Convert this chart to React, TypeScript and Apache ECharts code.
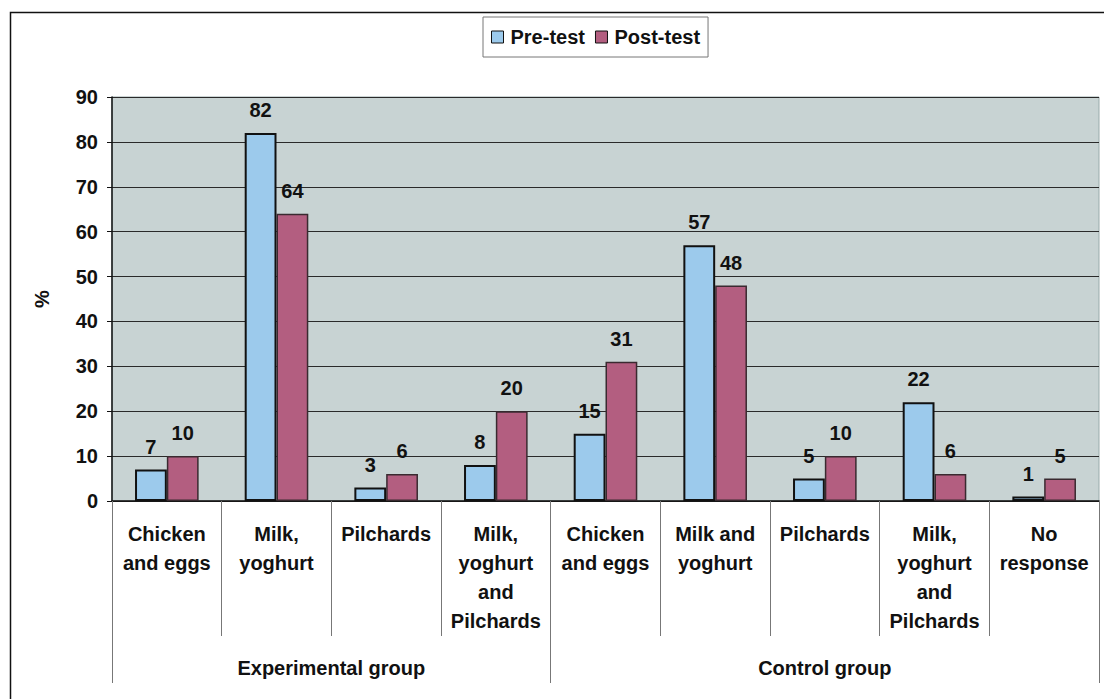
import React, { useEffect, useRef } from "react";
import * as echarts from "echarts";

const categories = [
  "Chicken\nand eggs",
  "Milk,\nyoghurt",
  "Pilchards",
  "Milk,\nyoghurt\nand\nPilchards",
  "Chicken\nand eggs",
  "Milk and\nyoghurt",
  "Pilchards",
  "Milk,\nyoghurt\nand\nPilchards",
  "No\nresponse",
];
const preTest = [7, 82, 3, 8, 15, 57, 5, 22, 1];
const postTest = [10, 64, 6, 20, 31, 48, 10, 6, 5];
const groupNames = ["Experimental group", "Control group"];
const groupSizes = [4, 5];
const seriesNames = ["Pre-test", "Post-test"];
const yTicks = { min: 0, max: 90, interval: 10 };

const FONT = "'Liberation Sans', Arial, sans-serif";

export default function App() {
  const ref = useRef<HTMLDivElement>(null);
  useEffect(() => {
    if (!ref.current) return;
    const chart = echarts.init(ref.current, null, { renderer: "svg" });

    // group boundaries and centres (in category units)
    const bounds: number[] = [0];
    groupSizes.forEach((s) => bounds.push(bounds[bounds.length - 1] + s));
    const centres = groupSizes.map((s, i) => bounds[i] + s / 2);
    const total = bounds[bounds.length - 1];

    const labelStyle = {
      show: true,
      position: "top" as const,
      distance: 13,
      color: "#111",
      fontFamily: FONT,
      fontSize: 20,
      fontWeight: "bold" as const,
    };

    chart.setOption({
      animation: false,
      backgroundColor: "#ffffff",
      textStyle: { fontFamily: FONT },
      graphic: [
        {
          type: "rect",
          shape: { x: 10.5, y: 12.5, width: 1200, height: 800 },
          style: { fill: "none", stroke: "#111", lineWidth: 1.5 },
          silent: true,
          z: -10,
        },
      ],
      legend: {
        left: 483,
        top: 17,
        data: seriesNames,
        itemWidth: 12,
        itemHeight: 12,
        itemGap: 10,
        padding: [10, 8, 10, 8],
        borderColor: "#777",
        borderWidth: 1,
        backgroundColor: "#fff",
        icon: "rect",
        textStyle: {
          fontFamily: FONT,
          fontSize: 20,
          fontWeight: "bold",
          color: "#111",
          padding: [0, 0, 0, 2],
        },
        itemStyle: { borderColor: "#111", borderWidth: 1 },
      },
      grid: {
        left: 112,
        right: 5,
        top: 97,
        bottom: 198,
        show: true,
        backgroundColor: "#c8d3d3",
        borderColor: "#9aa",
        borderWidth: 1,
      },
      xAxis: [
        {
          type: "category",
          data: categories,
          position: "bottom",
          axisLine: { show: true, lineStyle: { color: "#111", width: 1.5 } },
          axisTick: {
            show: true,
            interval: 0,
            alignWithLabel: false,
            length: 135,
            lineStyle: { color: "#777", width: 1 },
          },
          axisLabel: {
            interval: 0,
            margin: 18,
            color: "#111",
            fontFamily: FONT,
            fontSize: 20,
            fontWeight: "bold",
            lineHeight: 29,
            align: "center",
          },
          splitLine: { show: false },
        },
        {
          type: "value",
          position: "bottom",
          min: 0,
          max: total,
          axisLine: { show: false },
          splitLine: { show: false },
          axisTick: {
            show: true,
            customValues: bounds,
            length: 182,
            lineStyle: { color: "#777", width: 1 },
          },
          axisLabel: {
            customValues: centres,
            margin: 155,
            color: "#111",
            fontFamily: FONT,
            fontSize: 20,
            fontWeight: "bold",
            lineHeight: 24,
            formatter: (v: number) => {
              const i = centres.findIndex((c) => Math.abs(c - v) < 1e-6);
              return i >= 0 ? groupNames[i] : "";
            },
          },
        },
      ],
      yAxis: {
        type: "value",
        min: yTicks.min,
        max: yTicks.max,
        interval: yTicks.interval,
        name: "%",
        nameLocation: "middle",
        nameGap: 60,
        nameRotate: 90,
        nameTextStyle: {
          fontFamily: FONT,
          fontSize: 20,
          fontWeight: "bold",
          color: "#111",
        },
        axisLine: { show: true, lineStyle: { color: "#111", width: 1.5 } },
        axisTick: { show: true, length: 5, lineStyle: { color: "#111" } },
        axisLabel: {
          margin: 14,
          color: "#111",
          fontFamily: FONT,
          fontSize: 20,
          fontWeight: "bold",
        },
        splitLine: { show: true, lineStyle: { color: "#2a2a2a", width: 1 } },
      },
      series: [
        {
          name: seriesNames[0],
          type: "bar",
          xAxisIndex: 0,
          data: preTest,
          barWidth: "29%",
          barGap: "0%",
          itemStyle: { color: "#9ccaec", borderColor: "#111", borderWidth: 2 },
          label: labelStyle,
        },
        {
          name: seriesNames[1],
          type: "bar",
          xAxisIndex: 0,
          data: postTest,
          barWidth: "29%",
          barGap: "0%",
          itemStyle: { color: "#b35e80", borderColor: "#3a2a30", borderWidth: 1.5 },
          label: labelStyle,
        },
      ],
    });
    return () => chart.dispose();
  }, []);
  return (
    <div
      ref={ref}
      style={{ position: "fixed", left: 0, top: 0, width: 1104, height: 699 }}
    />
  );
}
